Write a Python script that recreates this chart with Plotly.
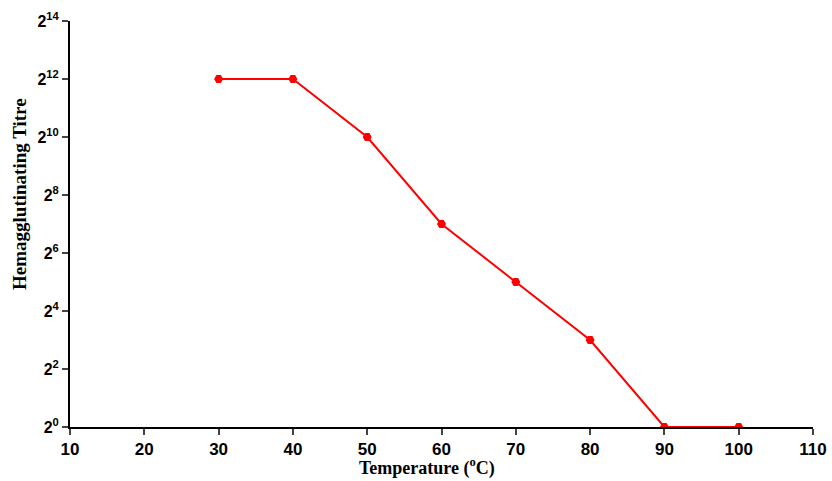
import math
import plotly.graph_objects as go

temps = [30, 40, 50, 60, 70, 80, 90, 100]
titre = [4096, 4096, 1024, 128, 32, 8, 1, 1]
x_ticks = [10, 20, 30, 40, 50, 60, 70, 80, 90, 100, 110]
y_exps = [0, 2, 4, 6, 8, 10, 12, 14]

fig = go.Figure()
fig.add_trace(go.Scatter(
    x=temps, y=titre, mode="lines+markers",
    line=dict(color="#ff0000", width=2),
    marker=dict(color="#ff0000", size=9, symbol="hexagon2"),
    showlegend=False,
))

fig.update_layout(
    width=832, height=481,
    margin=dict(l=70, r=19, t=21, b=54),
    plot_bgcolor="white", paper_bgcolor="white",
    xaxis=dict(
        range=[10, 110], tickvals=x_ticks, ticks="outside", ticklen=6, tickwidth=2,
        showline=True, linecolor="black", linewidth=2, showgrid=False, zeroline=False,
        automargin=False,
        tickfont=dict(family="Liberation Sans", size=17, color="black", weight="bold"),
    ),
    yaxis=dict(
        type="log", range=[0, 14 * math.log10(2)],
        tickvals=[2 ** e for e in y_exps],
        ticktext=[f"<b>2<sup>{e}</sup></b>" for e in y_exps],
        ticks="outside", ticklen=6, tickwidth=2,
        showline=True, linecolor="black", linewidth=2, showgrid=False, zeroline=False,
        automargin=False,
        tickfont=dict(family="Liberation Sans", size=16, color="black"),
    ),
    annotations=[
        dict(text="<b>Temperature (<sup>o</sup>C)</b>", xref="paper", yref="paper",
             x=(427 - 70) / (813 - 70), y=-(467 - 427) / (427 - 21),
             xanchor="center", yanchor="middle", showarrow=False,
             font=dict(family="Liberation Serif", size=18, color="black")),
        dict(text="<b>Hemagglutinating Titre</b>", xref="paper", yref="paper",
             x=-(70 - 19) / (813 - 70), y=(427 - 194) / (427 - 21),
             xanchor="center", yanchor="middle", textangle=-90, showarrow=False,
             font=dict(family="Liberation Serif", size=19, color="black")),
    ],
)
fig.write_html("out.html")
